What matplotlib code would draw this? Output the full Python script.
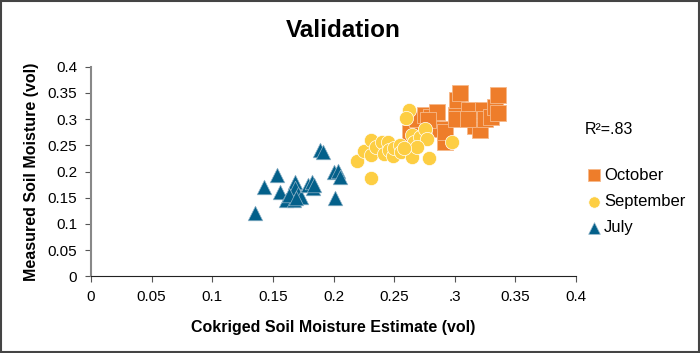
import numpy as np
import matplotlib.pyplot as plt
from matplotlib.patches import Rectangle

plt.rcParams['font.family'] = ['Liberation Sans', 'DejaVu Sans']

# October (squares)
oct_x = [0.263, 0.269, 0.275, 0.280, 0.285, 0.288, 0.292, 0.292, 0.301, 0.302, 0.304, 0.301,
         0.312, 0.315, 0.317, 0.321, 0.323, 0.325, 0.330, 0.333, 0.336, 0.336, 0.311, 0.278]
oct_y = [0.273, 0.301, 0.308, 0.305, 0.314, 0.282, 0.257, 0.276, 0.308, 0.336, 0.349, 0.301,
         0.317, 0.301, 0.286, 0.279, 0.317, 0.301, 0.305, 0.324, 0.311, 0.346, 0.301, 0.298]

# September (circles)
sep_x = [0.219, 0.231, 0.225, 0.231, 0.231, 0.235, 0.240, 0.242, 0.245, 0.246, 0.249, 0.250, 0.255,
         0.256, 0.262, 0.260, 0.265, 0.265, 0.266, 0.271, 0.275, 0.277, 0.279, 0.298, 0.269, 0.258]
sep_y = [0.220, 0.187, 0.240, 0.260, 0.231, 0.247, 0.257, 0.233, 0.257, 0.241, 0.230, 0.244, 0.251,
         0.238, 0.317, 0.303, 0.228, 0.270, 0.257, 0.266, 0.282, 0.263, 0.226, 0.257, 0.247, 0.244]

# July (triangles)
jul_x = [0.135, 0.143, 0.153, 0.156, 0.161, 0.167, 0.168, 0.168, 0.171, 0.173, 0.179, 0.182, 0.183,
         0.184, 0.189, 0.191, 0.200, 0.204, 0.205, 0.201, 0.163, 0.169]
jul_y = [0.120, 0.170, 0.193, 0.161, 0.146, 0.146, 0.180, 0.168, 0.158, 0.152, 0.174, 0.180, 0.168,
         0.174, 0.241, 0.238, 0.200, 0.202, 0.190, 0.150, 0.156, 0.150]

xticks = [0, 0.05, 0.1, 0.15, 0.2, 0.25, 0.3, 0.35, 0.4]
xtick_labels = ['0', '0.05', '0.1', '0.15', '0.2', '0.25', '.3', '0.35', '0.4']
yticks = [0, 0.05, 0.1, 0.15, 0.2, 0.25, 0.3, 0.35, 0.4]
ytick_labels = ['0', '0.05', '0.1', '0.15', '0.2', '0.25', '0.3', '0.35', '0.4']

fig = plt.figure(figsize=(7, 3.53), dpi=100)
ax = fig.add_axes([0.130, 0.217, 0.693, 0.594])

ax.scatter(oct_x, oct_y, marker='s', s=120, color='#EE7D2A', edgecolors='#F6B98A', linewidths=0.6,
           label='October', zorder=3)
ax.scatter(sep_x, sep_y, marker='o', s=105, color='#FDCE43', edgecolors='white', linewidths=0.5,
           label='September', zorder=4)
ax.scatter(jul_x, jul_y, marker='^', s=110, color='#03608A', edgecolors='#8FB3C8', linewidths=0.5,
           label='July', zorder=5)

ax.set_xlim(0, 0.4)
ax.set_ylim(0, 0.4)
ax.set_xticks(xticks)
ax.set_xticklabels(xtick_labels)
ax.set_yticks(yticks)
ax.set_yticklabels(ytick_labels)
ax.tick_params(labelsize=11, length=4, color='#555555', pad=6)

for s in ['top', 'right']:
    ax.spines[s].set_visible(False)
ax.spines['left'].set_color('#888888')
ax.spines['left'].set_linewidth(1.5)
ax.spines['bottom'].set_color('#222222')

ax.set_xlabel('Cokriged Soil Moisture Estimate (vol)', fontsize=11.5, fontweight='bold', labelpad=11)
ax.set_ylabel('Measured Soil Moisture (vol)', fontsize=11.5, fontweight='bold', labelpad=6)

fig.text(0.49, 0.915, 'Validation', ha='center', va='center', fontsize=17.5, fontweight='bold')
fig.text(0.836, 0.632, 'R\u00b2=.83', fontsize=11.5, va='center')

leg = ax.legend(loc='upper left', bbox_to_anchor=(0.985, 0.59), frameon=False, fontsize=12,
                handletextpad=0.0, labelspacing=0.68, handlelength=1.2, markerscale=0.8,
                scatterpoints=1)

# outer frame
fig.patches.append(Rectangle((0.002, 0.003), 0.996, 0.994, transform=fig.transFigure,
                             fill=False, edgecolor='#444444', linewidth=1.5))

fig.savefig('out.png', dpi=100)
